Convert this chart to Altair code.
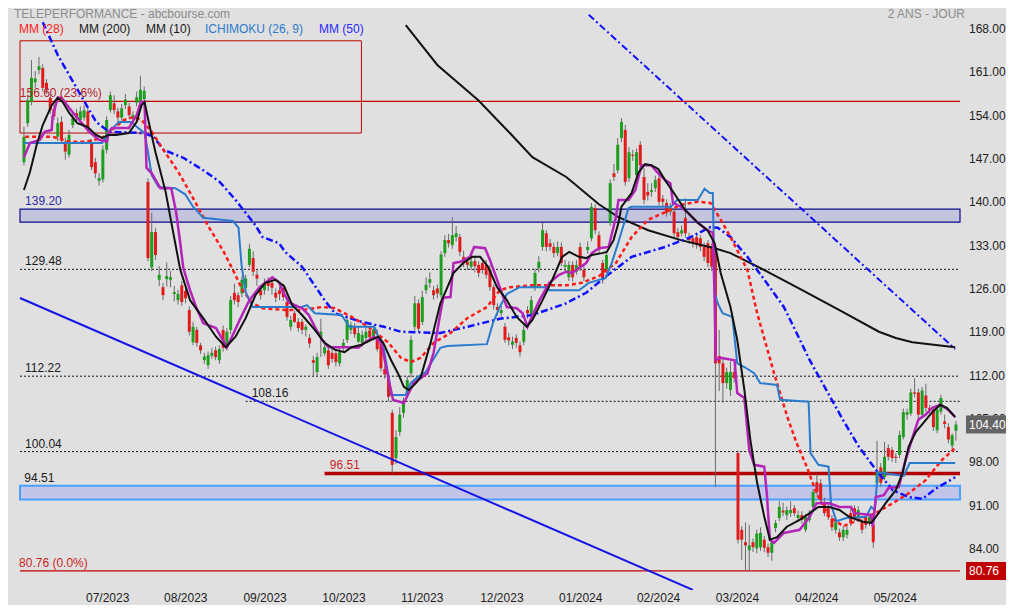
import altair as alt
import pandas as pd

FONT = "Liberation Sans"

# ---------------- daily candles (day index 0 .. 248) ----------------
OPEN = [146.8,153.1,156.5,159.7,161.7,162.0,159.6,157.2,155.4,150.9,
        153.3,150.1,148.0,152.8,154.7,153.6,154.0,155.0,150.0,146.8,
        143.8,144.0,148.8,155.2,156.3,155.0,154.0,156.0,155.8,153.9,
        156.4,156.5,157.0,143.6,129.8,135.5,127.8,126.6,127.9,127.8,
        125.5,124.5,126.9,126.0,122.9,117.7,119.7,117.2,114.8,114.0,
        115.5,116.4,114.8,119.7,117.0,119.7,125.7,125.3,125.6,126.5,
        130.2,131.3,128.6,126.1,126.1,127.5,127.3,125.7,126.1,126.5,
        124.2,120.2,122.4,121.0,121.0,119.7,118.4,114.8,112.9,118.4,
        115.9,116.4,116.0,115.9,114.3,116.8,118.1,119.7,120.2,117.8,
        117.6,118.4,119.6,118.6,118.4,117.6,113.4,112.1,106.3,99.0,
        103.2,106.3,109.5,112.7,120.2,124.0,121.0,126.1,127.3,126.1,
        126.4,125.3,132.1,134.2,133.4,134.7,134.7,131.5,130.7,129.9,
        130.8,130.2,130.5,130.2,129.4,126.6,123.4,122.4,120.2,118.5,
        117.3,118.4,117.2,117.8,122.9,122.1,126.5,129.7,133.1,135.3,
        133.7,133.1,132.1,133.1,129.9,128.2,130.2,129.1,133.1,129.4,
        132.6,134.5,139.4,135.0,130.5,129.4,137.0,145.0,145.5,150.7,
        152.0,144.2,148.0,144.7,149.6,144.4,142.0,142.0,142.6,144.2,
        140.9,140.2,138.8,138.8,135.5,135.3,137.8,134.7,134.5,134.7,
        134.5,133.1,133.7,133.1,133.0,115.5,114.3,111.1,110.0,112.9,
        99.8,87.4,85.4,84.1,85.4,84.4,84.6,85.8,84.6,83.7,
        87.7,89.3,90.5,89.8,90.1,90.9,89.3,89.8,87.4,89.0,
        91.1,95.1,94.9,91.8,90.9,89.2,87.4,87.0,86.2,86.6,
        90.1,90.9,89.5,88.7,89.3,88.5,88.2,95.0,97.5,95.9,
        100.6,100.3,99.2,99.5,102.4,106.0,106.2,109.6,109.6,106.0,
        109.1,107.1,106.8,103.5,106.5,104.9,104.0,101.0,103.4]
HIGH = [152.5,157.5,163.3,161.5,163.8,162.6,160.2,157.8,156.2,154.0,
        154.2,150.8,152.0,154.8,155.4,155.8,156.0,155.5,150.5,147.5,
        145.0,149.5,154.2,158.2,157.6,155.6,156.2,157.8,156.4,155.0,
        158.2,160.7,159.0,144.2,138.6,136.2,130.0,127.3,130.6,129.2,
        126.8,126.2,127.6,126.5,123.5,121.0,120.2,117.6,116.0,116.2,
        116.8,117.0,117.2,120.4,120.0,125.2,127.2,125.8,128.4,128.6,
        133.6,132.4,129.3,126.8,128.0,128.2,128.0,126.4,126.6,127.1,
        124.8,122.0,122.8,121.6,121.5,120.6,119.0,115.5,116.0,121.5,
        118.0,117.0,116.6,116.4,116.8,118.2,122.0,121.0,120.8,120.2,
        119.6,120.6,120.2,120.4,119.8,118.0,114.0,112.8,106.8,103.5,
        107.2,108.8,112.2,118.8,125.2,124.6,126.0,128.2,129.0,126.8,
        127.0,132.4,135.0,135.2,137.9,136.5,135.2,132.5,131.5,132.2,
        131.5,130.8,131.2,131.0,130.2,127.0,124.0,123.6,120.8,119.2,
        118.6,119.0,117.8,120.4,123.5,125.2,129.6,131.6,137.0,135.8,
        134.4,133.8,134.0,133.8,131.0,130.8,130.8,131.0,133.8,130.0,
        134.0,140.2,140.0,135.6,131.0,132.5,144.0,146.5,150.7,153.9,
        152.8,149.2,148.8,149.0,150.2,145.8,143.4,143.4,144.6,144.8,
        141.5,140.8,140.2,139.4,136.2,136.6,141.0,135.4,135.0,135.4,
        135.0,133.8,134.2,133.6,133.5,119.7,115.0,113.6,114.6,113.6,
        100.2,88.0,88.6,88.2,86.0,87.4,87.8,86.4,85.2,86.0,
        89.0,92.0,91.8,91.2,92.0,91.4,90.5,90.4,90.0,90.6,
        94.0,96.4,95.6,92.6,91.6,89.8,89.2,87.6,88.0,88.0,
        90.8,91.4,91.2,89.2,89.8,90.0,88.8,101.8,98.2,101.6,
        101.2,100.8,99.8,103.4,107.0,107.0,110.2,111.9,110.2,110.5,
        111.0,107.6,107.4,107.4,109.2,106.0,104.6,103.0,105.0]
LOW = [146.3,152.5,156.0,158.8,161.0,158.2,157.8,154.6,153.6,150.2,
       149.8,147.2,147.5,152.3,153.2,153.0,153.5,151.5,145.5,144.2,
       143.0,143.5,148.2,154.8,154.6,153.2,153.5,155.4,153.8,153.2,
       155.8,156.0,156.6,130.8,129.2,131.0,126.8,124.5,126.7,126.6,
       124.3,123.8,123.6,124.0,118.8,117.2,117.0,115.8,114.2,113.4,
       115.0,114.8,114.2,116.2,116.4,119.0,123.8,123.4,125.0,125.9,
       129.8,128.4,126.8,124.6,125.4,126.0,125.4,124.2,124.5,124.4,
       121.2,119.6,120.8,119.4,119.0,118.6,116.8,112.2,112.3,115.3,
       115.5,113.4,114.4,113.8,113.8,116.2,117.6,119.0,118.4,117.6,
       117.0,117.8,117.8,118.0,116.2,113.0,111.8,108.2,96.6,98.0,
       102.6,105.5,108.8,112.0,119.6,119.2,120.5,125.5,126.5,124.6,
       124.8,124.8,131.5,133.0,132.8,134.0,131.6,129.8,129.4,129.4,
       129.0,128.2,128.8,128.0,126.0,123.0,122.0,121.8,117.6,117.2,
       116.6,116.8,115.4,117.2,121.5,121.6,126.0,129.0,132.5,132.4,
       132.5,131.4,131.6,130.0,129.2,127.6,127.5,128.6,129.2,127.6,
       132.0,134.0,135.2,132.0,127.2,128.8,136.5,143.8,145.0,150.0,
       143.0,143.6,147.0,144.0,145.8,140.0,140.6,141.2,142.0,139.8,
       139.6,138.0,138.2,134.6,134.0,134.8,134.6,133.6,133.0,132.8,
       132.4,130.8,129.8,129.2,94.3,109.8,107.9,110.2,109.0,111.2,
       85.2,82.5,80.9,80.9,83.8,83.6,84.0,83.8,83.0,82.4,
       87.0,88.8,89.6,89.0,89.5,89.6,88.8,88.4,87.0,88.6,
       90.6,93.0,91.6,89.6,89.0,87.2,86.8,85.6,85.6,86.0,
       88.0,88.8,89.0,86.8,87.6,88.0,84.5,94.5,94.4,95.4,
       98.6,98.4,98.2,99.0,102.0,105.2,105.8,108.8,105.4,105.6,
       106.5,106.2,103.4,103.0,106.0,103.8,101.4,100.2,101.8]
CLOSE = [150.9,156.8,160.4,160.3,162.3,158.8,158.4,155.2,154.2,153.1,
         150.4,148.5,151.2,153.9,153.9,155.0,155.2,152.0,146.0,145.0,
         144.2,148.8,153.6,157.6,155.2,154.0,155.5,156.9,154.4,154.4,
         157.3,158.5,158.3,131.3,135.5,131.8,128.6,125.3,128.4,128.2,
         125.8,125.5,124.2,124.8,119.4,120.2,117.6,116.4,115.4,115.6,
         116.0,115.3,116.6,116.8,119.4,124.5,124.5,124.2,127.8,128.0,
         132.8,129.1,128.0,125.3,127.3,126.8,126.5,124.9,125.5,125.0,
         121.8,121.3,121.0,120.0,119.7,120.2,117.5,114.4,115.3,119.4,
         116.9,114.0,115.0,114.5,116.1,117.6,121.3,120.5,119.0,119.2,
         118.9,119.4,118.5,119.8,116.6,113.5,112.5,108.9,97.9,102.4,
         106.0,107.9,111.6,118.1,124.0,119.9,125.0,127.0,127.9,125.3,
         125.6,131.9,134.2,133.7,135.0,135.3,132.3,130.5,130.2,130.8,
         130.0,128.9,129.4,128.6,126.6,123.7,122.9,122.9,118.1,118.0,
         117.8,117.6,116.1,119.7,122.4,124.5,128.9,130.7,135.8,133.1,
         133.1,132.1,133.1,130.5,130.2,130.2,128.2,130.2,129.9,128.2,
         133.1,139.6,135.8,132.6,128.0,131.8,143.4,144.4,149.6,153.3,
         143.6,148.4,147.8,148.4,146.3,140.7,141.4,142.3,143.9,140.4,
         140.4,138.6,139.5,135.3,134.7,135.8,135.3,134.2,133.7,133.4,
         133.1,131.5,130.5,129.9,114.3,114.3,111.1,112.9,112.9,111.9,
         85.8,85.8,84.9,84.9,84.6,86.8,86.9,84.5,83.7,85.4,
         88.5,91.1,90.2,90.6,90.6,90.1,89.8,89.0,89.5,89.8,
         93.5,93.5,92.2,90.1,89.5,87.8,88.6,86.2,87.4,87.4,
         88.5,89.3,90.6,87.4,88.2,89.5,85.4,96.7,95.0,99.2,
         99.2,99.0,99.0,102.7,106.4,106.4,109.6,109.4,106.0,109.9,
         107.1,106.8,104.0,106.8,108.7,104.5,102.0,102.7,104.4]

# ---------------- indicators: (day index, value) ----------------
MM10 = [(0,142.3),(1.6,145.2),(3.4,149.6),(5.0,152.8),(7.4,156.0),(9.0,157.2),(10.3,156.5),(12.1,154.7),
        (14.2,153.1),(16.9,152.5),(19.2,151.2),(20.8,150.7),(22.6,151.2),(24.5,151.2),(27.9,151.5),(30.0,153.3),
        (31.3,156.0),(32.1,156.5),(33.2,153.3),(35.0,148.4),(37.7,142.0),(39.2,137.1),(41.6,129.4),(44.2,124.5),
        (47.7,121.6),(51.1,118.6),(53.7,116.9),(56.3,118.6),(59.0,121.6),(61.6,125.3),(64.2,127.3),(66.9,127.8),
        (69.2,126.8),(71.4,123.7),(74.0,122.1),(77.4,119.7),(80.0,117.6),(82.7,116.5),(85.3,116.1),(87.2,116.9),
        (89.8,117.3),(92.4,118.1),(94.3,118.6),(95.6,117.6),(97.7,114.8),(99.5,112.7),(101.1,110.5),(102.4,110.0),
        (104.3,111.1),(105.6,112.1),(108.2,117.6),(110.8,124.0),(112.7,126.6),(114.3,128.9),(116.9,130.5),
        (119.3,131.5),(121.4,131.5),(123.5,129.9),(125.9,126.6),(128.5,124.5),(131.1,121.8),(133.8,120.2),
        (135.3,121.3),(138.0,124.5),(140.6,127.8),(143.2,131.5),(145.1,132.3),(147.7,131.5),(149.6,131.3),
        (151.1,131.8),(153.8,132.1),(155.1,132.3),(156.9,134.2),(158.2,137.0),(159.0,139.6),(161.7,141.8),
        (163.5,145.1),(165.3,146.5),(166.9,146.3),(168.8,145.7),(170.6,143.9),(173.3,141.5),(175.9,139.1),
        (179.3,137.0),(181.9,135.8),(183.8,133.7),(185.4,128.9),(188.0,123.4),(189.8,118.1),(191.7,110.0),
        (193.3,101.9),(195.1,95.0),(197.0,89.5),(198.5,85.8),(200.4,86.2),(203.0,87.9),(206.4,89.0),(209.1,90.1),
        (211.4,91.1),(214.3,91.1),(217.0,90.6),(219.6,89.5),(223.3,88.7),(225.4,88.5),(226.7,89.5),(229.3,91.7),
        (232.0,93.8),(233.8,96.6),(235.4,100.8),(237.3,103.2),(239.9,105.1),(241.7,106.4),(243.8,107.6),
        (245.6,107.1),(247.8,105.6)]

TENKAN = [(0,147.6),(1.6,149.9),(4.2,150.4),(5.5,151.7),(7.4,152.0),(7.6,154.1),(9.0,157.2),(10.0,157.2),
          (12.1,155.5),(14.7,153.6),(17.4,151.7),(20.0,150.4),(22.1,150.1),(22.6,151.7),(23.4,152.3),(27.9,152.3),
          (30.0,154.4),(31.1,156.5),(32.1,156.5),(32.6,145.9),(34.0,145.0),(36.3,142.6),(39.2,142.6),(40.5,138.7),
          (41.6,133.7),(42.4,129.7),(44.2,126.1),(45.8,123.4),(47.7,120.8),(51.1,120.0),(52.9,118.1),(54.0,116.9),
          (55.6,118.9),(57.4,121.3),(60.0,124.5),(62.7,126.6),(66.1,128.2),(67.9,127.4),(68.7,126.1),(70.6,124.1),
          (74.0,123.2),(75.8,122.1),(77.4,120.2),(79.3,118.1),(81.1,116.9),(86.4,116.9),(89.0,116.8),(90.6,117.6),
          (93.2,118.6),(95.1,117.6),(96.9,112.1),(98.2,108.4),(101.1,107.9),(102.4,109.5),(103.7,111.1),
          (107.4,112.7),(109.0,116.0),(110.8,122.4),(111.6,124.9),(113.5,125.0),(114.3,130.5),(116.1,130.7),
          (118.7,131.5),(119.8,133.1),(122.7,132.9),(124.0,131.0),(126.6,126.6),(128.5,123.4),(131.1,123.2),
          (132.7,122.4),(134.0,120.2),(135.1,121.8),(137.2,124.5),(139.8,127.3),(142.4,128.6),(144.3,129.1),
          (145.9,128.9),(148.2,129.9),(149.6,130.5),(151.1,132.1),(153.0,132.9),(155.6,133.1),(157.5,137.9),
          (158.2,140.7),(160.9,140.7),(162.7,142.3),(164.3,146.3),(166.9,146.3),(168.8,145.0),(170.6,143.9),
          (172.0,143.4),(172.7,140.2),(174.8,139.6),(176.7,138.6),(179.3,137.0),(181.9,135.8),(183.3,135.4),
          (183.8,124.5),(184.1,114.8),(185.4,115.2),(189.1,114.8),(189.8,109.5),(191.7,108.7),(193.0,100.3),
          (194.3,97.9),(197.0,97.6),(197.7,93.0),(198.5,85.8),(199.6,85.3),(202.2,86.9),(206.4,87.4),(209.1,89.5),
          (210.9,91.7),(214.3,91.7),(217.0,91.1),(220.1,91.1),(220.9,90.1),(225.4,89.8),(225.9,87.9),(226.7,92.7),
          (228.8,93.0),(230.1,94.2),(232.8,94.3),(234.6,98.7),(236.5,102.4),(238.0,105.2),(239.9,106.0),
          (241.7,107.1),(243.8,107.6),(245.9,106.8),(247.8,105.6)]

KIJUN = [(0,149.9),(20.8,149.9),(22.6,151.7),(25.3,153.3),(28.7,153.3),(30.0,152.5),(32.1,151.5),(32.9,148.8),
         (34.0,144.7),(35.8,142.8),(40.3,142.6),(42.9,141.6),(45.0,139.6),(47.7,137.8),(55.6,137.3),(57.1,136.2),
         (57.9,130.2),(59.0,125.8),(60.8,123.4),(74.0,123.4),(75.3,123.7),(77.4,122.4),(84.5,122.1),(86.6,120.2),
         (93.2,120.2),(94.3,118.6),(95.8,116.5),(97.2,111.6),(97.7,109.2),(101.6,109.2),(102.9,111.1),(104.8,112.1),
         (106.9,112.9),(110.8,116.8),(112.7,117.1),(123.2,117.4),(124.8,120.8),(126.6,123.4),(128.5,125.5),
         (131.9,126.6),(139.0,126.6),(139.8,126.1),(147.7,126.1),(150.3,127.3),(154.8,128.1),(156.4,130.5),
         (158.2,133.9),(160.9,139.4),(161.7,139.6),(172.2,139.6),(173.8,140.7),(179.3,140.7),(181.1,142.5),
         (182.5,141.8),(183.3,141.8),(183.8,125.7),(184.6,124.0),(185.9,122.4),(188.5,121.8),(189.8,114.3),
         (191.7,113.7),(194.3,112.7),(195.9,111.1),(200.4,110.8),(201.2,108.4),(208.8,108.1),(209.3,99.8),
         (211.4,97.9),(214.1,97.6),(214.8,91.4),(216.2,88.8),(218.8,89.3),(224.1,89.5),(225.4,91.1),(226.4,90.6),
         (227.2,96.7),(234.1,96.1),(235.7,98.2),(247.8,98.2)]

MM28 = [(0.3,150.9),(4.2,150.9),(7.6,150.9),(12.1,150.1),(16.6,150.1),(20.8,150.7),(24.0,152.3),(26.6,153.6),
        (29.2,154.1),(31.3,153.6),(34.0,151.7),(37.1,148.8),(41.1,145.2),(45.0,141.0),(49.0,136.5),(52.9,132.6),
        (55.6,129.4),(58.2,126.1),(60.8,124.0),(63.5,123.2),(69.5,122.9),(74.0,122.9),(79.3,123.4),(82.7,123.2),
        (87.2,121.8),(91.6,120.2),(96.9,117.7),(100.3,115.2),(102.9,114.5),(105.6,115.2),(109.0,117.6),
        (113.5,119.2),(118.0,121.6),(123.2,123.4),(126.6,126.1),(129.3,126.6),(135.3,126.9),(144.3,126.9),
        (148.5,127.3),(153.0,128.4),(157.5,130.5),(161.7,134.7),(166.1,137.5),(170.6,138.7),(174.8,139.9),
        (179.3,140.4),(182.7,140.2),(185.4,137.5),(188.0,134.7),(192.5,129.4),(195.1,122.4),(199.6,112.7),
        (203.0,105.9),(205.6,101.4),(208.3,97.6),(210.9,93.3),(214.3,89.5),(218.0,88.0),(222.2,89.0),(226.7,90.1),
        (231.2,91.7),(235.4,93.3),(239.9,95.4),(244.3,98.7),(247.8,100.6)]

MM50 = [(5.0,169.4),(9.0,164.1),(15.5,157.2),(19.2,153.3),(22.6,151.7),(31.9,151.5),(34.5,150.9),(37.1,148.8),
        (42.4,147.5),(47.7,145.5),(52.1,143.6),(56.3,140.7),(61.6,136.6),(63.5,134.7),(67.9,133.7),(69.5,132.3),
        (74.0,129.9),(80.0,124.5),(82.7,122.4),(89.8,121.0),(95.8,120.2),(100.3,119.4),(110.8,119.2),(118.0,120.2),
        (126.6,121.5),(135.3,122.1),(144.3,124.0),(149.6,125.7),(154.8,128.3),(161.7,131.5),(170.6,133.1),
        (176.7,134.5),(182.7,136.3),(184.6,136.2),(188.0,134.7),(192.5,131.5),(196.9,127.9),(202.2,123.4),
        (205.6,119.2),(209.1,114.8),(213.5,110.0),(218.0,105.1),(222.2,100.8),(226.7,97.1),(231.2,93.8),
        (235.4,92.7),(239.1,92.4),(242.5,94.0),(247.8,95.9)]

MM200 = [(101.6,168.95),(110.0,162.5),(120.9,156.8),(129.3,151.5),(135.3,147.6),(144.3,144.4),(153.0,140.0),
         (158.2,137.9),(166.1,135.8),(174.8,134.2),(183.8,132.9),(188.0,132.1),(196.9,129.4),(205.6,126.6),
         (217.0,122.9),(227.5,119.4),(232.0,118.4),(236.4,117.7),(247.8,116.9)]

# drawn trend lines
TREND_DASHDOT = [(150.3,170.6),(247.8,116.6)]
TREND_BLUE = [(-1.05,124.85),(178.0,77.7)]

# horizontal levels
DOTTED_LEVELS = [129.48, 112.22, 108.16, 100.04]
DOTTED_START = [-1.05, -1.05, 59.0, -1.05]
SUPPORT_9651 = 96.51
SUPPORT_START = 80.0
FIB_LEVELS = [156.60, 80.76]
BAND_UPPER = (139.20, 137.1)
BAND_LOWER = (94.51, 92.3)
BOX_X = (-1.05, 89.8)
BOX_Y = (151.5, 166.4)

MONTH_POS = [16.5, 37.3, 58.4, 79.4, 100.3, 121.4, 142.4, 163.1, 184.1, 205.2, 226.1]
MONTH_LABELS = ["07/2023", "08/2023", "09/2023", "10/2023", "11/2023", "12/2023",
                "01/2024", "02/2024", "03/2024", "04/2024", "05/2024"]
Y_TICKS = [84, 91, 98, 105, 112, 119, 126, 133, 140, 147, 154, 161, 168]

X_DOMAIN = [-1.05, 249.08]
Y_DOMAIN = [77.68, 171.70]
W, H = 950, 582

xs = alt.Scale(domain=X_DOMAIN, nice=False, zero=False)
ys = alt.Scale(domain=Y_DOMAIN, nice=False, zero=False)


def X(f="i"):
    return alt.X(f"{f}:Q", scale=xs, axis=None)


def Y(f="v"):
    return alt.Y(f"{f}:Q", scale=ys, axis=None)


candles = pd.DataFrame({"i": list(range(len(CLOSE))), "o": OPEN, "h": HIGH, "l": LOW, "c": CLOSE})
candles["dir"] = ["up" if c >= o else "down" for o, c in zip(OPEN, CLOSE)]

layers = []

# bands
for top, bot, fill, stroke, sw in [(BAND_UPPER[0], BAND_UPPER[1], "#c4c4dc", "#0a0a8a", 1.2),
                                   (BAND_LOWER[0], BAND_LOWER[1], "#c4c4e8", "#4aa0ff", 2)]:
    df = pd.DataFrame({"x0": [X_DOMAIN[0]], "x1": [X_DOMAIN[1]], "t": [top], "b": [bot]})
    layers.append(alt.Chart(df).mark_rect(fill=fill, stroke=stroke, strokeWidth=sw)
                  .encode(x=X("x0"), x2="x1:Q", y=Y("t"), y2="b:Q"))

# red rectangle
df = pd.DataFrame({"x0": [BOX_X[0]], "x1": [BOX_X[1]], "t": [BOX_Y[1]], "b": [BOX_Y[0]]})
layers.append(alt.Chart(df).mark_rect(fill=None, stroke="#c00000", strokeWidth=1)
              .encode(x=X("x0"), x2="x1:Q", y=Y("t"), y2="b:Q"))

# dotted levels
df = pd.DataFrame({"v": DOTTED_LEVELS, "x0": DOTTED_START, "x1": [X_DOMAIN[1]] * len(DOTTED_LEVELS)})
layers.append(alt.Chart(df).mark_rule(color="#111111", strokeWidth=1, strokeDash=[2, 2])
              .encode(x=X("x0"), x2="x1:Q", y=Y()))

# fib lines
df = pd.DataFrame({"v": FIB_LEVELS, "x0": [X_DOMAIN[0]] * 2, "x1": [X_DOMAIN[1]] * 2})
layers.append(alt.Chart(df).mark_rule(color="#c00000", strokeWidth=1.3)
              .encode(x=X("x0"), x2="x1:Q", y=Y()))

# thick support 96.51
df = pd.DataFrame({"v": [SUPPORT_9651], "x0": [SUPPORT_START], "x1": [X_DOMAIN[1]]})
layers.append(alt.Chart(df).mark_rule(color="#b00000", strokeWidth=3.5)
              .encode(x=X("x0"), x2="x1:Q", y=Y()))

# candles
layers.append(alt.Chart(candles).mark_rule(color="#6a6a6a", strokeWidth=1)
              .encode(x=X(), y=Y("l"), y2="h:Q"))
layers.append(alt.Chart(candles).mark_bar(size=3)
              .encode(x=X(), y=Y("o"), y2="c:Q",
                      color=alt.Color("dir:N", scale=alt.Scale(domain=["up", "down"],
                                                               range=["#1e9e1e", "#e01b1b"]), legend=None)))


def line(pairs, color, width, dash=None):
    df = pd.DataFrame(pairs, columns=["i", "v"])
    kw = dict(color=color, strokeWidth=width, clip=True)
    if dash:
        kw["strokeDash"] = dash
    return alt.Chart(df).mark_line(**kw).encode(x=X(), y=Y(), order="i:Q")


layers += [
    line(TREND_BLUE, "#1414e6", 2),
    line(TREND_DASHDOT, "#1010ff", 2, [7, 3, 2, 3]),
    line(MM200, "#111111", 2),
    line(MM50, "#1010ff", 2.5, [7, 3, 2, 3]),
    line(MM28, "#ff1a1a", 2.5, [4, 3]),
    line(KIJUN, "#2a7bcc", 2),
    line(TENKAN, "#b424b8", 2.5),
    line(MM10, "#111111", 2),
]


def level_label(text, i, v, color):
    df = pd.DataFrame({"t": [text], "i": [i], "v": [v]})
    return alt.Chart(df).mark_text(align="left", baseline="bottom", dy=-1, font=FONT, fontSize=12,
                                   color=color).encode(x=X(), y=Y(), text="t:N")


layers += [
    level_label("156.60  (23.6%)", -1.1, 156.60, "#b8202a"),
    level_label("139.20", 0.3, 139.20, "#2a2aa8"),
    level_label("129.48", 0.3, 129.48, "#1a1a1a"),
    level_label("112.22", 0.3, 112.22, "#1a1a1a"),
    level_label("108.16", 60.6, 108.16, "#1a1a1a"),
    level_label("100.04", 0.3, 100.04, "#1a1a1a"),
    level_label("96.51", 81.4, 96.51, "#cc1f1f"),
    level_label("94.51", 0.1, 94.51, "#1a1a1a"),
    level_label("80.76  (0.0%)", -1.3, 80.76, "#cc1f1f"),
]

# month labels (x axis)
mdf = pd.DataFrame({"i": MONTH_POS, "t": MONTH_LABELS})
layers.append(alt.Chart(mdf).mark_text(align="left", baseline="middle", font=FONT, fontSize=12,
                                       color="#222222").encode(x=X(), y=alt.value(590), text="t:N"))

# price labels (right y axis)
ydf = pd.DataFrame({"v": Y_TICKS, "t": [f"{v:.2f}" for v in Y_TICKS]})
layers.append(alt.Chart(ydf).mark_text(align="left", baseline="middle", dy=-2, font=FONT, fontSize=12,
                                       color="#222222").encode(x=alt.value(954), y=Y(), text="t:N"))

# right-hand value boxes
last = pd.DataFrame({"v": [CLOSE[-1]], "t": [f"{CLOSE[-1]:.2f}"]})
layers.append(alt.Chart(last).mark_rule(color="#646464", strokeWidth=18, strokeCap="butt")
              .encode(x=alt.value(951), x2=alt.value(1000), y=Y()))
layers.append(alt.Chart(last).mark_text(align="left", baseline="middle", font=FONT, fontSize=12, color="white")
              .encode(x=alt.value(954), y=Y(), text="t:N"))
fib0 = pd.DataFrame({"v": [FIB_LEVELS[1]], "t": [f"{FIB_LEVELS[1]:.2f}"]})
layers.append(alt.Chart(fib0).mark_rule(color="#c00000", strokeWidth=18, strokeCap="butt")
              .encode(x=alt.value(951), x2=alt.value(1000), y=Y()))
layers.append(alt.Chart(fib0).mark_text(align="left", baseline="middle", font=FONT, fontSize=12, color="white")
              .encode(x=alt.value(954), y=Y(), text="t:N"))


def header(text, x, y, color, align="left", baseline="middle"):
    return alt.Chart(pd.DataFrame({"t": [text]})).mark_text(
        align=align, baseline=baseline, font=FONT, fontSize=12, color=color
    ).encode(x=alt.value(x), y=alt.value(y), text="t:N")


layers += [
    header("TELEPERFORMANCE - abcbourse.com", -1, 1, "#8c8c8c", baseline="top"),
    header("2 ANS - JOUR", 950, 1, "#8c8c8c", align="right", baseline="top"),
    header("MM (28)", 4, 21, "#ff1a1a"),
    header("MM (200)", 64, 21, "#1a1a1a"),
    header("MM (10)", 131, 21, "#1a1a1a"),
    header("ICHIMOKU (26, 9)", 190, 21, "#2a7bcc"),
    header("MM (50)", 304, 21, "#2a2aff"),
]

chart = alt.layer(*layers).properties(
    width=W, height=H,
    padding={"left": 7, "top": 0, "right": 41, "bottom": 15},
    autosize=alt.AutoSizeParams(type="none"),
    background="#e0e0e0",
).configure_view(stroke=None)

chart.save("out.html", embed_options={"renderer": "svg", "actions": False})
